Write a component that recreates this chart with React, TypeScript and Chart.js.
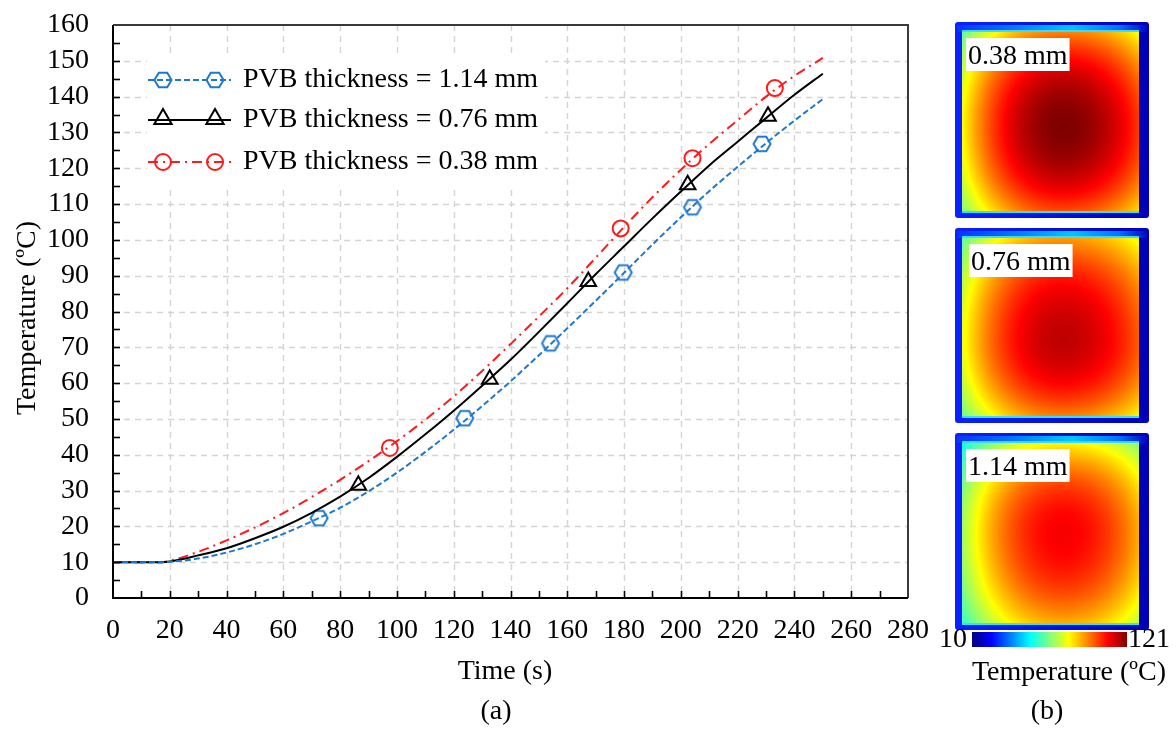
import React, { useEffect, useRef } from "react";
import { Chart, registerables } from "chart.js";

Chart.register(...registerables);

// ---------------- data ----------------
const timeS = [0, 10, 17, 20, 30, 40, 50, 60, 70, 80, 90, 100, 110, 120, 130, 140, 150, 160, 170, 180, 190, 200, 210, 220, 230, 240, 250];
const temp114 = [10, 10, 10, 10.1, 11.0, 12.7, 15.0, 17.9, 21.4, 25.2, 29.8, 35.0, 40.8, 47.0, 53.6, 60.5, 67.8, 75.3, 83.0, 90.8, 98.7, 106.3, 113.6, 120.4, 127.0, 133.3, 139.3];
const temp076 = [10, 10, 10, 10.2, 11.9, 13.9, 16.7, 19.9, 23.8, 28.3, 33.5, 39.4, 45.7, 52.3, 59.3, 66.5, 74.3, 82.3, 90.4, 98.2, 106.0, 113.5, 120.8, 127.4, 134.0, 140.5, 146.4];
const temp038 = [10, 10, 10, 10.4, 12.9, 16.1, 19.7, 23.7, 28.2, 33.0, 38.2, 43.8, 49.8, 56.3, 63.4, 70.9, 78.6, 86.5, 95.0, 103.6, 111.9, 119.6, 126.8, 133.4, 140.0, 145.8, 150.8];

const mark114T = [72.6, 123.9, 154.1, 179.7, 204.1, 228.6];
const mark114V = [22.3, 50.2, 71.1, 90.9, 109.1, 126.8];
const mark076T = [86.4, 132.7, 167.4, 202.4, 230.7];
const mark076V = [31.5, 61.1, 88.4, 115.4, 134.5];
const mark038T = [97.5, 178.8, 204.1, 233.1];
const mark038V = [41.9, 103.2, 122.8, 142.4];

const seriesLabels = ["PVB thickness = 1.14 mm", "PVB thickness = 0.76 mm", "PVB thickness = 0.38 mm"];
const xTitle = "Time (s)";
const yTitle = "Temperature (ºC)";
const xMin = 0, xMax = 280, xStep = 20;
const yMin = 0, yMax = 160, yStep = 10;

// right-hand temperature fields (b)
const panelLabels = ["0.38 mm", "0.76 mm", "1.14 mm"];
const panelPeakT = [121, 114, 108];
const panelLeftT = [79, 77, 69];
const panelRightT = [101, 97, 88];
const panelTopT = [93, 90, 80];
const panelBottomT = [99, 93, 88];
const panelHotX = [0.57, 0.565, 0.57];
const panelHotY = [0.53, 0.57, 0.5];
const colorbarMin = 10;
const colorbarMax = 121;
const colorbarTitle = "Temperature (ºC)";

// ---------------- styles ----------------
const FONT = '"Liberation Serif", "Times New Roman", serif';
const BLUE = "#1f78cf";
const RED = "#ff1a1a";
const BLACK = "#000000";
const DASH_BLUE = [6, 3];
const DASH_RED = [10, 5, 2, 5];

const pts = (xs: number[], ys: number[]) => xs.map((x, i) => ({ x, y: ys[i] }));

function hexPath(ctx: CanvasRenderingContext2D, x: number, y: number, r: number) {
  ctx.beginPath();
  for (let k = 0; k < 6; k++) {
    const a = (k * Math.PI) / 3;
    const px = x + r * Math.cos(a);
    const py = y + r * Math.sin(a);
    if (k === 0) ctx.moveTo(px, py);
    else ctx.lineTo(px, py);
  }
  ctx.closePath();
}

function makeHexCanvas(color: string) {
  const c = document.createElement("canvas");
  c.width = 22;
  c.height = 20;
  const g = c.getContext("2d")!;
  g.strokeStyle = color;
  g.lineWidth = 2;
  hexPath(g, 11, 10, 8.5);
  g.stroke();
  return c;
}

function jet(v: number): [number, number, number] {
  const cl = (t: number) => Math.max(0, Math.min(1, t));
  return [cl(1.5 - Math.abs(4 * v - 3)) * 255, cl(1.5 - Math.abs(4 * v - 2)) * 255, cl(1.5 - Math.abs(4 * v - 1)) * 255];
}
const jetCss = (v: number) => {
  const [r, g, b] = jet(v);
  return `rgb(${Math.round(r)},${Math.round(g)},${Math.round(b)})`;
};

function fieldCanvas(i: number, w: number, h: number) {
  const c = document.createElement("canvas");
  c.width = w;
  c.height = h;
  const g = c.getContext("2d")!;
  const img = g.createImageData(w, h);
  const peak = panelPeakT[i] - colorbarMin;
  const fl = (panelLeftT[i] - colorbarMin) / peak;
  const fr = (panelRightT[i] - colorbarMin) / peak;
  const ft = (panelTopT[i] - colorbarMin) / peak;
  const fb = (panelBottomT[i] - colorbarMin) / peak;
  const cx = panelHotX[i];
  const cy = panelHotY[i];
  for (let j = 0; j < h; j++) {
    const v = (j + 0.5) / h;
    const dy = v < cy ? (cy - v) / cy : (v - cy) / (1 - cy);
    const fy = 1 - (1 - (v < cy ? ft : fb)) * dy * dy;
    for (let k = 0; k < w; k++) {
      const u = (k + 0.5) / w;
      const dx = u < cx ? (cx - u) / cx : (u - cx) / (1 - cx);
      const fx = 1 - (1 - (u < cx ? fl : fr)) * dx * dx;
      const T = colorbarMin + peak * fx * fy;
      const [r, gg, b] = jet((T - colorbarMin) / (colorbarMax - colorbarMin));
      const o = (j * w + k) * 4;
      img.data[o] = r;
      img.data[o + 1] = gg;
      img.data[o + 2] = b;
      img.data[o + 3] = 255;
    }
  }
  g.putImageData(img, 0, 0);
  return c;
}

function drawTriangle(ctx: CanvasRenderingContext2D, x: number, y: number, r: number) {
  ctx.beginPath();
  for (let k = 0; k < 3; k++) {
    const a = (k * 2 * Math.PI) / 3;
    const px = x + Math.sin(a) * r;
    const py = y - Math.cos(a) * r;
    if (k === 0) ctx.moveTo(px, py);
    else ctx.lineTo(px, py);
  }
  ctx.closePath();
}

const decor = {
  id: "decor",
  beforeDatasetsDraw(chart: any) {
    const { ctx, chartArea: a, scales } = chart;
    const sx = scales.x;
    const sy = scales.y;
    ctx.save();
    ctx.strokeStyle = "#d4d4d4";
    ctx.lineWidth = 1.4;
    ctx.setLineDash([6, 5]);
    sx.ticks.forEach((t: any) => {
      if (t.value <= xMin || t.value >= xMax) return;
      const px = Math.round(sx.getPixelForValue(t.value)) + 0.5;
      ctx.beginPath();
      ctx.moveTo(px, a.top);
      ctx.lineTo(px, a.bottom);
      ctx.stroke();
    });
    sy.ticks.forEach((t: any) => {
      if (t.value <= yMin || t.value >= yMax) return;
      const py = Math.round(sy.getPixelForValue(t.value)) + 0.5;
      ctx.beginPath();
      ctx.moveTo(a.left, py);
      ctx.lineTo(a.right, py);
      ctx.stroke();
    });
    ctx.restore();
  },
  afterDatasetsDraw(chart: any) {
    const { ctx, chartArea: a, scales } = chart;
    const sx = scales.x;
    const sy = scales.y;
    ctx.save();
    // frame
    ctx.lineWidth = 2;
    ctx.strokeStyle = "#3a3a3a";
    ctx.beginPath();
    ctx.moveTo(a.left, a.top);
    ctx.lineTo(a.right, a.top);
    ctx.lineTo(a.right, a.bottom);
    ctx.stroke();
    ctx.strokeStyle = "#000";
    ctx.beginPath();
    ctx.moveTo(a.left, a.top);
    ctx.lineTo(a.left, a.bottom);
    ctx.lineTo(a.right, a.bottom);
    ctx.stroke();
    // inward ticks (major + minor)
    ctx.lineWidth = 1.6;
    for (let v = xMin + xStep / 2; v < xMax; v += xStep / 2) {
      const px = Math.round(sx.getPixelForValue(v)) + 0.5;
      ctx.beginPath();
      ctx.moveTo(px, a.bottom);
      ctx.lineTo(px, a.bottom - 7);
      ctx.stroke();
    }
    for (let v = yMin + yStep / 2; v < yMax; v += yStep / 2) {
      const py = Math.round(sy.getPixelForValue(v)) + 0.5;
      ctx.beginPath();
      ctx.moveTo(a.left, py);
      ctx.lineTo(a.left + 7, py);
      ctx.stroke();
    }
    // legend
    ctx.fillStyle = "#fff";
    ctx.fillRect(147, 53, 398, 132);
    const rows = [
      { y: 80, color: BLUE, dash: DASH_BLUE, m: "hex" },
      { y: 120, color: BLACK, dash: [] as number[], m: "tri" },
      { y: 162, color: RED, dash: DASH_RED, m: "circ" },
    ];
    rows.forEach((r, i) => {
      ctx.strokeStyle = r.color;
      ctx.lineWidth = 2;
      ctx.setLineDash(r.dash);
      ctx.beginPath();
      ctx.moveTo(148, r.y);
      ctx.lineTo(231, r.y);
      ctx.stroke();
      ctx.setLineDash([]);
      [163, 215].forEach((mx) => {
        if (r.m === "hex") hexPath(ctx, mx, r.y, 8.5);
        else if (r.m === "tri") drawTriangle(ctx, mx, r.y - 1, 10);
        else {
          ctx.beginPath();
          ctx.arc(mx, r.y, 8, 0, Math.PI * 2);
        }
        ctx.stroke();
      });
      ctx.fillStyle = "#000";
      ctx.font = `28px ${FONT}`;
      ctx.textAlign = "left";
      ctx.textBaseline = "alphabetic";
      ctx.fillText(seriesLabels[i], 243, r.y + 7);
    });
    ctx.restore();
  },
  afterDraw(chart: any) {
    const { ctx } = chart;
    ctx.save();
    ctx.fillStyle = "#000";
    ctx.font = `28px ${FONT}`;
    ctx.textAlign = "center";
    ctx.textBaseline = "middle";
    ctx.fillText(xTitle, 505, 672);
    ctx.fillText("(a)", 496, 712);
    ctx.save();
    ctx.translate(28, 318);
    ctx.rotate(-Math.PI / 2);
    ctx.fillText(yTitle, 0, 0);
    ctx.restore();

    // temperature field panels
    const x0 = 955, x1 = 1149;
    const panelY = [
      [22, 218],
      [228, 423],
      [433, 630],
    ];
    const bl = 7, br = 10, bt = 10, bb = 7;
    panelY.forEach(([y0, y1], i) => {
      const w = x1 - x0;
      const h = y1 - y0;
      const gx = ctx.createLinearGradient(x0, 0, x1, 0);
      gx.addColorStop(0, "#0a22ff");
      gx.addColorStop(1, "#0000b8");
      ctx.fillStyle = gx;
      ctx.beginPath();
      (ctx as any).roundRect ? (ctx as any).roundRect(x0, y0, w, h, 3) : ctx.rect(x0, y0, w, h);
      ctx.fill();
      const gt = ctx.createLinearGradient(x0, 0, x1, 0);
      gt.addColorStop(0, "#0a30ff");
      gt.addColorStop(0.3, "#0078ff");
      gt.addColorStop(0.6, "#00c8ff");
      gt.addColorStop(0.85, "#0070ff");
      gt.addColorStop(1, "#0000c0");
      ctx.fillStyle = gt;
      ctx.fillRect(x0 + 2, y0 + 3, w - 4, bt - 3);
      ctx.fillStyle = "#30e0ff";
      ctx.fillRect(x0 + bl, y1 - bb, w - bl - br, 2);
      ctx.fillStyle = "#40d8ff";
      ctx.fillRect(x0 + bl, y0 + bt - 2, w - bl - br, 2);
      const fw = w - bl - br;
      const fh = h - bt - bb;
      ctx.drawImage(fieldCanvas(i, fw, fh), x0 + bl, y0 + bt);
      ctx.font = `28px ${FONT}`;
      const tw = ctx.measureText(panelLabels[i]).width;
      const lx = i === 1 ? 969 : 966;
      ctx.fillStyle = "#fff";
      ctx.fillRect(lx, y0 + 16, tw + 4, 33);
      ctx.fillStyle = "#000";
      ctx.textAlign = "left";
      ctx.textBaseline = "alphabetic";
      ctx.fillText(panelLabels[i], lx + 2, y0 + 42);
    });

    // colour bar
    const cbx0 = 972, cbx1 = 1127, cby = 632, cbh = 15;
    const gc = ctx.createLinearGradient(cbx0, 0, cbx1, 0);
    [0, 0.125, 0.25, 0.375, 0.5, 0.625, 0.75, 0.875, 1].forEach((s) => gc.addColorStop(s, jetCss(s)));
    ctx.fillStyle = gc;
    ctx.fillRect(cbx0, cby, cbx1 - cbx0, cbh);
    ctx.fillStyle = "#000";
    ctx.font = `28px ${FONT}`;
    ctx.textBaseline = "middle";
    ctx.textAlign = "right";
    ctx.fillText(String(colorbarMin), 967, 640);
    ctx.textAlign = "left";
    ctx.fillText(String(colorbarMax), 1128, 640);
    ctx.textAlign = "center";
    ctx.fillText(colorbarTitle, 1069, 673);
    ctx.fillText("(b)", 1047, 712);
    ctx.restore();
  },
};

export default function App() {
  const ref = useRef<HTMLCanvasElement>(null);
  useEffect(() => {
    const canvas = ref.current!;
    const hex = makeHexCanvas(BLUE);
    const chart = new Chart(canvas, {
      type: "line",
      data: {
        datasets: [
          {
            label: seriesLabels[0],
            data: pts(timeS, temp114),
            borderColor: BLUE,
            borderWidth: 2,
            borderDash: DASH_BLUE,
            pointRadius: 0,
            cubicInterpolationMode: "monotone",
            fill: false,
          },
          {
            label: seriesLabels[1],
            data: pts(timeS, temp076),
            borderColor: BLACK,
            borderWidth: 2,
            pointRadius: 0,
            cubicInterpolationMode: "monotone",
            fill: false,
          },
          {
            label: seriesLabels[2],
            data: pts(timeS, temp038),
            borderColor: RED,
            borderWidth: 2,
            borderDash: DASH_RED,
            pointRadius: 0,
            cubicInterpolationMode: "monotone",
            fill: false,
          },
          {
            label: "m114",
            data: pts(mark114T, mark114V),
            showLine: false,
            pointStyle: hex as any,
            pointRadius: 9,
            borderColor: BLUE,
            backgroundColor: "rgba(0,0,0,0)",
          },
          {
            label: "m076",
            data: pts(mark076T, mark076V),
            showLine: false,
            pointStyle: "triangle",
            pointRadius: 9,
            pointBorderWidth: 2,
            borderColor: BLACK,
            backgroundColor: "rgba(0,0,0,0)",
          },
          {
            label: "m038",
            data: pts(mark038T, mark038V),
            showLine: false,
            pointStyle: "circle",
            pointRadius: 8,
            pointBorderWidth: 2,
            borderColor: RED,
            backgroundColor: "rgba(0,0,0,0)",
          },
        ] as any,
      },
      options: {
        animation: false,
        responsive: true,
        maintainAspectRatio: false,
        devicePixelRatio: 1,
        layout: { padding: { left: 0, right: 268, top: 25, bottom: 0 } },
        plugins: { legend: { display: false }, tooltip: { enabled: false }, title: { display: false } },
        events: [],
        scales: {
          x: {
            type: "linear",
            min: xMin,
            max: xMax,
            grid: { display: false, drawTicks: false },
            border: { display: false },
            ticks: {
              stepSize: xStep,
              autoSkip: false,
              maxRotation: 0,
              padding: 16,
              color: "#000",
              font: { family: FONT, size: 28 },
            },
            afterFit: (s: any) => {
              s.height = 133;
              s.paddingLeft = 0;
              s.paddingRight = 0;
            },
          },
          y: {
            type: "linear",
            min: yMin,
            max: yMax,
            grid: { display: false, drawTicks: false },
            border: { display: false },
            ticks: {
              stepSize: yStep,
              autoSkip: false,
              padding: 24,
              color: "#000",
              font: { family: FONT, size: 28 },
            },
            afterFit: (s: any) => {
              s.width = 113;
              s.paddingTop = 0;
              s.paddingBottom = 0;
            },
          },
        },
      } as any,
      plugins: [decor],
    });
    return () => chart.destroy();
  }, []);
  return (
    <div style={{ position: "fixed", left: 0, top: 0, width: 1176, height: 731, background: "#fff" }}>
      <canvas ref={ref} />
    </div>
  );
}
